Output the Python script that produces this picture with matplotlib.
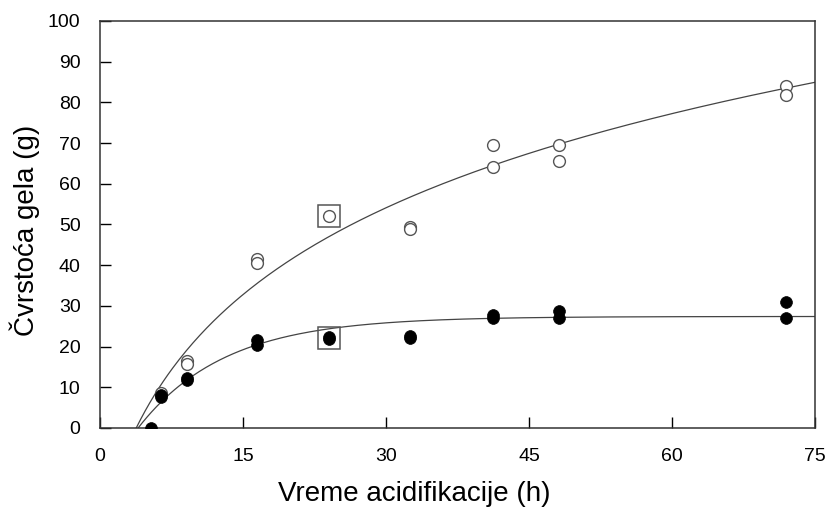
import numpy as np
import matplotlib
matplotlib.use("Agg")
import matplotlib.pyplot as plt

plt.rcParams['font.family'] = ['Liberation Sans', 'DejaVu Sans']

# open circles (upper series)
open_x = [6.4, 9.15, 9.15, 16.5, 16.5, 24.0, 32.5, 32.5, 41.2, 41.2, 48.1, 48.1, 72.0, 72.0]
open_y = [8.6, 16.4, 15.6, 41.6, 40.6, 52.1, 49.3, 48.8, 69.6, 64.2, 69.5, 65.6, 84.0, 81.8]

# filled circles (lower series)
fill_x = [5.4, 6.4, 6.4, 9.15, 9.15, 16.5, 16.5, 24.0, 24.0, 32.5, 32.5, 41.2, 41.2, 48.1, 48.1, 72.0, 72.0]
fill_y = [0.0, 8.1, 7.5, 12.3, 11.8, 21.5, 20.4, 22.3, 21.8, 22.6, 22.1, 27.8, 27.0, 28.8, 27.0, 31.0, 27.1]

# points marked with a square
boxed_x = [24.0, 24.0]
boxed_y = [52.1, 22.0]

# fitted curves, parameters
open_fit = {"b": 36.5, "x0": 3.8, "s": 7.7}      # y = b*ln(1 + (x-x0)/s)
fill_fit = {"A": 27.4, "x0": 4.0, "k": 0.11}     # y = A*(1 - exp(-k(x-x0)))

xticks = [0, 15, 30, 45, 60, 75]
yticks = list(range(0, 101, 10))

fig = plt.figure(figsize=(8.27, 5.08), dpi=100)
ax = fig.add_axes([0.1209, 0.1575, 0.8646, 0.8012])

xo = np.linspace(open_fit["x0"], 75, 300)
yo = open_fit["b"] * np.log(1 + (xo - open_fit["x0"]) / open_fit["s"])
xf = np.linspace(fill_fit["x0"], 75, 300)
yf = fill_fit["A"] * (1 - np.exp(-fill_fit["k"] * (xf - fill_fit["x0"])))

ax.plot(xo, yo, color='#444444', lw=0.9, zorder=2)
ax.plot(xf, yf, color='#444444', lw=0.9, zorder=2)

ax.plot(boxed_x, boxed_y, ls='none', marker='s', ms=16, mfc='none',
        mec='#555555', mew=1.1, zorder=3)
ax.plot(open_x, open_y, ls='none', marker='o', ms=8.5, mfc='white',
        mec='#555555', mew=1.0, zorder=4)
ax.plot(fill_x, fill_y, ls='none', marker='o', ms=8.5, mfc='black',
        mec='black', mew=0.5, zorder=5)

ax.set_xlim(0, 75)
ax.set_ylim(0, 100)
ax.set_xticks(xticks)
ax.set_yticks(yticks)
ax.tick_params(direction='in', length=8, width=1, labelsize=14)
ax.tick_params(axis='x', pad=14.5)
ax.tick_params(axis='y', pad=14)
for sp in ax.spines.values():
    sp.set_linewidth(1.1)
    sp.set_color('#333333')

ax.set_xlabel("Vreme acidifikacije (h)", fontsize=20)
ax.set_ylabel("Čvrstoća gela (g)", fontsize=20, labelpad=6)
ax.xaxis.set_label_coords(0.439, -0.130)
ax.yaxis.label.set_y(0.4865)

fig.savefig("out.png", dpi=100)
